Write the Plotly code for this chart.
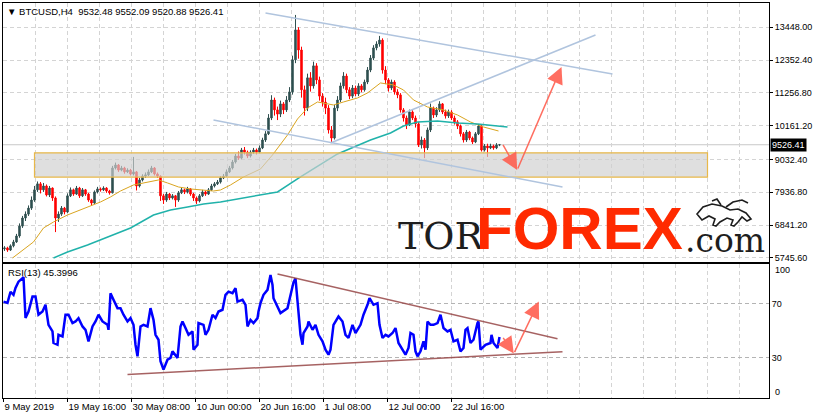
import plotly.graph_objects as go
import pandas as pd

# ---------------- data ----------------
# 12-hour candles starting 9 May 2019 00:00 (each spans three H4 bars)
opens = [6050,6080,6010,6150,6280,6480,6810,7080,7210,7410,7680,8020,8220,8020,8150,7850,8080,7750,7080,7210,
         7410,7280,7820,8020,7880,8080,7820,8020,7880,7680,7580,7950,8050,8020,8080,7980,7920,8750,8850,8680,
         8750,8620,8680,8550,8620,8150,8350,8480,8520,8620,8750,8550,8480,7820,7680,7880,7750,7820,7680,7920,
         8020,7950,8050,7880,7750,7650,7820,7950,7880,8020,8150,8220,8280,8420,8480,8620,8750,8950,9150,9080,
         9350,9280,9150,9280,9350,9280,9420,9685,9890,10420,11020,10690,10550,10890,10690,11020,11290,12360,13360,12690,
         11360,10750,11760,11490,12160,11690,11150,10950,10750,10020,9750,10750,11020,11490,11820,11360,11150,11420,11220,11490,
         11360,11620,12020,12420,12760,12890,13020,12020,11690,11420,11620,11290,11190,10690,10420,10190,10620,10420,10220,9520,
         9685,9420,10020,10750,10520,10690,10890,10620,10490,10620,10420,10290,10150,9890,9685,9950,9750,9620,9890,10150,
         9350,9485,9420,9485,9420,9520]
highs = [6140,6120,6200,6350,6550,6900,7150,7300,7500,7800,8150,8300,8280,8250,8200,8150,8100,7800,7300,7480,
         7450,7900,8100,8060,8150,8120,8080,8050,7920,7720,8000,8120,8100,8140,8110,8020,8820,8930,8880,8820,
         8790,8740,8720,9120,8650,8420,8540,8600,8700,8820,8780,8600,8500,7880,7950,7920,7880,7850,7980,8100,
         8060,8120,8080,7920,7800,7880,8020,7990,8080,8220,8280,8350,8480,8550,8700,8820,9020,9220,9300,9420,
         9450,9330,9340,9420,9400,9500,9760,9980,10550,11180,11100,10800,11000,10950,11150,11450,12500,13860,13450,12800,
         11500,11900,11950,12300,12250,11800,11250,11100,10850,10150,10850,11150,11600,11950,11900,11450,11520,11500,11580,11550,
         11700,12120,12520,12850,12980,13160,13080,12150,11750,11700,11680,11380,11250,10750,10500,10700,10680,10500,10280,9800,
         9750,10100,10900,10800,10780,10980,10920,10700,10700,10680,10500,10350,10200,9950,10020,9990,9800,9950,10220,10180,
         9550,9560,9560,9530,9580,9552.09]
lows = [5980,5950,5980,6100,6250,6420,6750,6980,7150,7350,7620,7950,7900,7950,7800,7780,7650,6610,6950,7150,
        7200,7250,7780,7820,7850,7750,7780,7820,7620,7500,7550,7900,7960,7980,7920,7860,7900,8700,8620,8640,
        8560,8580,8500,8500,8000,8100,8300,8420,8480,8580,8500,8420,7650,7550,7620,7680,7700,7450,7620,7880,
        7880,7900,7820,7650,7550,7600,7780,7820,7850,7980,8100,8180,8230,8380,8450,8580,8700,8900,9020,9040,
        9200,9080,9100,9220,9200,9240,9380,9620,9850,10350,10500,10350,10450,10550,10620,10950,11200,12250,12400,11100,
        10500,10650,11300,11400,11550,11000,10800,10550,9900,9620,9700,10650,10950,11400,11250,11050,11080,11150,11150,11280,
        11300,11550,11950,12350,12680,12800,11900,11550,11300,11350,11200,11080,10600,10300,10050,10150,10350,10100,9450,9400,
        9080,9350,9950,10420,10450,10620,10550,10400,10420,10350,10200,10050,9800,9600,9620,9680,9550,9580,9850,9300,
        9300,9120,9380,9360,9380,9480]
closes = [6080,6010,6150,6280,6480,6810,7080,7210,7410,7680,8020,8220,8020,8150,7850,8080,7750,7080,7210,7410,
          7280,7820,8020,7880,8080,7820,8020,7880,7680,7580,7950,8050,8020,8080,7980,7920,8750,8850,8680,8750,
          8620,8680,8550,8620,8150,8350,8480,8520,8620,8750,8550,8480,7820,7680,7880,7750,7820,7680,7920,8020,
          7950,8050,7880,7750,7650,7820,7950,7880,8020,8150,8220,8280,8420,8480,8620,8750,8950,9150,9080,9350,
          9280,9150,9280,9350,9280,9420,9685,9890,10420,11020,10690,10550,10890,10690,11020,11290,12360,13360,12690,11360,
          10750,11760,11490,12160,11690,11150,10950,10750,10020,9750,10750,11020,11490,11820,11360,11150,11420,11220,11490,11360,
          11620,12020,12420,12760,12890,13020,12020,11690,11420,11620,11290,11190,10690,10420,10190,10620,10420,10220,9520,9685,
          9420,10020,10750,10520,10690,10890,10620,10490,10620,10420,10290,10150,9890,9685,9950,9750,9620,9890,10150,9350,
          9485,9420,9485,9420,9520,9526.41]

# moving averages (H4 bar index from 9 May 00:00, price)
ma_fast_bar = [9,20,30,40,50,64,77,87,97,107,117,130,144,155,164,175,187,200,210,217,227,240,257,269,284,
               294,304,314,320,330,340,354,364,377,390,400,410,424,440,454,467,480,495]
ma_fast_val = [5745,6012,6280,6747,6947,7181,7348,7482,7615,7782,7982,8183,8283,8350,8250,8116,8049,8016,7982,8016,
               8183,8450,8717,9185,9852,10386,10754,10954,10921,10854,10954,11088,11255,11589,11522,11355,11021,10787,
               10687,10520,10286,10119,9986]
ma_slow_bar = [50,64,84,97,110,127,150,167,184,200,217,234,257,274,297,334,367,387,400,414,434,454,474,504]
ma_slow_val = [5745,5946,6180,6346,6513,6747,7181,7348,7448,7548,7615,7715,7849,7949,8450,9218,9685,9919,10153,
               10286,10320,10253,10220,10119]

# RSI(13) (H4 bar index, value)
rsi_bar = [0,4,7,10,12,15,19,20,22,25,29,32,35,39,42,45,49,50,54,55,59,62,65,69,72,75,79,82,85,89,
           92,95,99,104,105,107,110,114,117,120,124,127,130,132,134,137,140,144,147,150,152,155,157,160,164,167,169,172,174,177,
           179,182,185,189,190,194,195,200,202,205,209,212,215,219,222,225,229,232,234,239,242,244,247,250,254,255,257,260,264,267,
           269,270,274,277,284,290,292,295,297,299,300,304,305,309,312,315,319,322,325,327,330,335,339,342,345,349,352,357,360,364,
           366,370,374,376,379,382,385,389,392,395,399,402,405,407,410,412,414,417,420,422,424,427,430,434,437,440,444,447,450,454,
           457,460,462,464,467,470,474,475,477,482,487,488,490,494,496]
rsi_val = [71.7,70.7,79,76.7,81.8,86.5,89,90,59.6,64.3,75.4,75.4,61.9,64.3,69.3,54.4,49.5,40.9,39.6,47,
           45.8,61.9,61.9,55.7,56.9,59.4,53.2,50.7,42.1,53.2,56.9,61.9,56.9,54.4,50.7,77.9,73,66.8,66.8,61.9,
           56.9,59.4,54.4,39.6,31,53.2,54.4,53.2,66.8,58.1,47,43.3,27.3,21.1,28.5,29.8,34.7,32.2,29.8,53.2,
           56.9,52,47,49.5,35.9,39.6,55.7,54.4,47,50.7,61.9,59.4,64.3,65.6,76.7,79.1,77.9,81.6,71.7,73,
           69.3,53.2,58.1,55.7,59.4,64.3,70.5,76.7,80.4,91.5,84.1,74.2,68,63.1,66.8,86,89,63.1,47,39.6,
           48.3,53.2,56.9,50.7,54.4,47,42.1,35.9,32.2,35.9,54.4,60.6,56.9,47,44.6,54.4,48.3,54.4,61.9,69.3,
           74.2,69.3,70.5,54.4,44.6,47,45.8,48.3,52,40.9,35.9,32.2,37.2,48.3,47,34.7,31,34.7,42.1,35.9,
           56.9,54.4,54.4,55.7,61.9,52,49.5,50.7,42.1,43.3,34.7,37.2,50.7,52,40.9,43.3,55.7,56.9,35.9,39.6,
           40.9,47,40.9,37.2,45.4]

price_ticks = [5745.60, 6841.20, 7936.80, 9032.40, 10161.20, 11256.80, 12352.40, 13448.00]
rsi_ticks = [30, 70]
date_label_bars = [0, 64, 128, 192, 256, 320, 384, 448]
date_labels = ["9 May 2019", "19 May 16:00", "30 May 08:00", "10 Jun 00:00",
               "20 Jun 16:00", "1 Jul 08:00", "12 Jul 00:00", "22 Jul 16:00"]
header = "\u25bc BTCUSD,H4\u00a0\u00a09532.48 9552.09 9520.88 9526.41"
last_price = 9526.41
rsi_last = "RSI(13) 45.3996"

# ---------------- helpers ----------------
base = pd.Timestamp("2019-05-09 00:00")
BAR = pd.Timedelta(hours=4)
def bt(b):
    return (base + BAR * b).strftime("%Y-%m-%d %H:%M:%S")

W, H = 815, 419
ML, MR, MT, MB = 3, 46, 3, 21
PW, PH = W - ML - MR, H - MT - MB
def px(xp):
    return (xp - ML) / PW
def py(yp):
    return (H - MB - yp) / PH
def ppath(points, close=False):
    s = "M " + " L ".join(f"{px(a):.5f},{py(b):.5f}" for a, b in points)
    return s + (" Z" if close else "")

candle_time = [bt(3 * i + 1) for i in range(len(closes))]
FONT = "Liberation Sans, Arial, sans-serif"
GRID = "#d4d4d4"

fig = go.Figure()
fig.add_trace(go.Candlestick(
    x=candle_time, open=opens, high=highs, low=lows, close=closes,
    increasing=dict(line=dict(color="#2f4f4f", width=1), fillcolor="#2f4f4f"),
    decreasing=dict(line=dict(color="#ff0000", width=1), fillcolor="#ff0000"),
    whiskerwidth=0, showlegend=False, hoverinfo="skip", xaxis="x", yaxis="y"))
fig.add_trace(go.Scatter(x=[bt(b) for b in ma_fast_bar], y=ma_fast_val, mode="lines",
                         line=dict(color="#daa520", width=1), showlegend=False, hoverinfo="skip"))
fig.add_trace(go.Scatter(x=[bt(b) for b in ma_slow_bar], y=ma_slow_val, mode="lines",
                         line=dict(color="#20b2aa", width=1.5), showlegend=False, hoverinfo="skip"))
fig.add_trace(go.Scatter(x=[bt(b) for b in rsi_bar], y=rsi_val, mode="lines",
                         line=dict(color="#0000ff", width=2.5), showlegend=False, hoverinfo="skip",
                         xaxis="x2", yaxis="y2"))

minor = dict(tickmode="linear", tick0=bt(0), dtick=32 * 4 * 3600 * 1000, showgrid=True,
             gridcolor=GRID, griddash="4px,3px", gridwidth=1, ticks="")
xcommon = dict(range=[bt(-0.5), bt(765.5)], type="date", showline=True, mirror=True,
               linecolor="black", linewidth=1, tickmode="array", automargin=False, tickangle=0,
               tickvals=[bt(b) for b in date_label_bars], showgrid=True, gridcolor=GRID,
               griddash="4px,3px", zeroline=False, minor=minor)
fig.update_layout(
    width=W, height=H, margin=dict(l=ML, r=MR, t=MT, b=MB, autoexpand=False),
    paper_bgcolor="white", plot_bgcolor="white", showlegend=False,
    font=dict(family=FONT, size=9.5, color="black"),
    xaxis=dict(**xcommon, anchor="y", domain=[0, 1], showticklabels=False, ticks="",
               rangeslider=dict(visible=False)),
    xaxis2=dict(**xcommon, anchor="y2", domain=[0, 1], matches="x",
                ticktext=date_labels, ticks="outside", ticklen=3, tickcolor="black",
                ticklabelposition="outside right", tickfont=dict(family=FONT, size=9.5)),
    yaxis=dict(domain=[py(262), 1], range=[5611, 14259], side="right", tickmode="array",
               tickvals=price_ticks, ticktext=[f"{v:.2f}" for v in price_ticks], automargin=False,
               ticks="outside", ticklen=3, tickcolor="black", showline=True, mirror=True,
               linecolor="black", showgrid=True, gridcolor=GRID, griddash="4px,3px",
               zeroline=False, tickfont=dict(family=FONT, size=9)),
    yaxis2=dict(domain=[0, py(263.5)], range=[0, 100], side="right", tickmode="array",
                tickvals=rsi_ticks, ticktext=[str(v) for v in rsi_ticks], ticks="", automargin=False,
                showline=True, mirror=True, linecolor="black", showgrid=True,
                gridcolor="#b4b4b4", griddash="4px,3px", zeroline=False,
                tickfont=dict(family=FONT, size=9)),
)

shapes = []
# support zone
shapes.append(dict(type="rect", xref="x", yref="y", x0=bt(31), x1=bt(704), y0=8445, y1=9256,
                   fillcolor="#d0d0d0", opacity=0.68, line=dict(width=0), layer="above"))
shapes.append(dict(type="rect", xref="x", yref="y", x0=bt(31), x1=bt(704), y0=8445, y1=9256,
                   fillcolor="rgba(0,0,0,0)", line=dict(color="#e8b84a", width=1.2), layer="above"))
# last price line
shapes.append(dict(type="line", xref="paper", yref="y", x0=0, x1=1, y0=last_price, y1=last_price,
                   line=dict(color="#c8c8c8", width=1), layer="below"))
# channel / trend lines
for (b0, p0, b1, p1) in [(262, 13926, 609, 11889), (210, 10353, 559, 8116), (327, 9585, 592, 13191)]:
    shapes.append(dict(type="line", xref="x", yref="y", x0=bt(b0), y0=p0, x1=bt(b1), y1=p1,
                       line=dict(color="#b0c4de", width=1.5), layer="above"))
for (b0, v0, b1, v1) in [(274, 92.2, 554, 44.1), (124, 17.4, 559, 34.4)]:
    shapes.append(dict(type="line", xref="x2", yref="y2", x0=bt(b0), y0=v0, x1=bt(b1), y1=v1,
                       line=dict(color="rgba(150,70,70,0.85)", width=1.5), layer="above"))
# small bull/bear logo of the watermark (line drawing)
logo_body = [(697, 214), (703, 207), (712, 204), (722, 206), (730, 210), (738, 209), (746, 213),
             (751, 219), (747, 221), (742, 217), (738, 222), (734, 226), (731, 225), (733, 220),
             (727, 218), (720, 222), (716, 226), (713, 225), (715, 219), (709, 216), (702, 220)]
logo_horn1 = [(726, 207), (733, 202), (742, 200), (748, 203)]
logo_horn2 = [(721, 205), (717, 199), (712, 201)]
shapes.append(dict(type="path", xref="paper", yref="paper", path=ppath(logo_body, True),
                   line=dict(color="#1e1e1e", width=1.6), fillcolor="rgba(255,255,255,0.6)", layer="above"))
for pts in (logo_horn1, logo_horn2):
    shapes.append(dict(type="path", xref="paper", yref="paper", path=ppath(pts),
                       line=dict(color="#1e1e1e", width=1.6), layer="above"))
fig.update_layout(shapes=shapes)

ann = []
ARROW = "rgba(255,95,80,0.9)"
def arrow(xr, yr, b0, v0, b1, v1):
    return dict(xref=xr, yref=yr, axref=xr, ayref=yr, x=bt(b1), y=v1, ax=bt(b0), ay=v0,
                text="", showarrow=True, arrowhead=2, arrowsize=2.2, arrowwidth=1.5,
                arrowcolor=ARROW, standoff=0, startstandoff=0)
ann.append(arrow("x", "y", 498.7, 9575, 513.7, 8684))
ann.append(arrow("x", "y", 513.7, 8684, 558, 12123))
ann.append(arrow("x2", "y2", 498.7, 45.8, 510.3, 33))
ann.append(arrow("x2", "y2", 510.3, 33, 535.3, 71.7))

ann.append(dict(xref="paper", yref="paper", x=px(5), y=py(11), xanchor="left", yanchor="middle",
                text=header, showarrow=False, font=dict(family=FONT, size=9.5, color="black")))
ann.append(dict(xref="paper", yref="paper", x=px(6), y=py(272), xanchor="left", yanchor="middle",
                text=rsi_last, showarrow=False, font=dict(family=FONT, size=9.5, color="black")))
ann.append(dict(xref="paper", yref="paper", x=px(773), y=py(270), xanchor="left", yanchor="middle",
                text="100", showarrow=False, font=dict(family=FONT, size=9, color="black")))
ann.append(dict(xref="paper", yref="paper", x=px(773), y=py(392), xanchor="left", yanchor="middle",
                text="0", showarrow=False, font=dict(family=FONT, size=9, color="black")))
ann.append(dict(xref="paper", yref="y", x=px(770), y=last_price, xanchor="left", yanchor="middle",
                text=f"{last_price:.2f}", showarrow=False, bgcolor="black", borderpad=1,
                font=dict(family=FONT, size=9, color="white")))
# watermark
ann.append(dict(xref="paper", yref="paper", x=px(396), y=py(236), xanchor="left", yanchor="middle",
                text="TOR", showarrow=False, font=dict(family="DejaVu Serif", size=38, color="#1e1e1e")))
ann.append(dict(xref="paper", yref="paper", x=px(474), y=py(229), xanchor="left", yanchor="middle",
                text="<b>FOREX</b>", showarrow=False,
                font=dict(family="Liberation Sans", size=60, color="#ff2a00")))
ann.append(dict(xref="paper", yref="paper", x=px(683), y=py(240), xanchor="left", yanchor="middle",
                text=".com", showarrow=False, font=dict(family="DejaVu Serif", size=33, color="#1e1e1e")))
fig.update_layout(annotations=ann)

fig.write_html("out.html", config={"displayModeBar": False},
               post_script="document.body.style.margin='0px';")
